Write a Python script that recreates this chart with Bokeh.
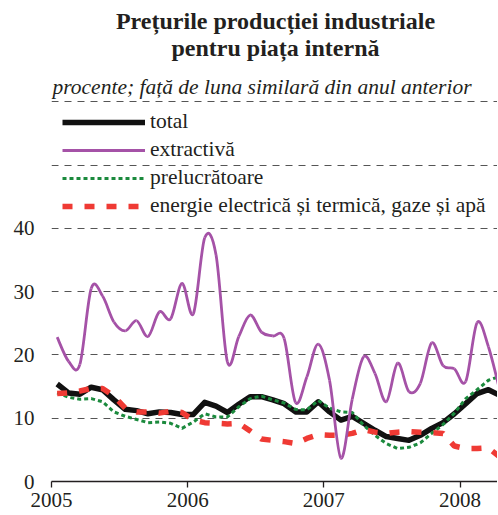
from bokeh.plotting import figure
from bokeh.models import Range1d, FixedTicker, Label, Legend, LegendItem
from bokeh.embed import file_html
from bokeh.resources import INLINE

# ---------------- data (monthly, Jan 2005 - Apr 2008) ----------------
start_year = 2005
years = [2005, 2006, 2007, 2008]
year_labels = ["2005", "2006", "2007", "2008"]
y_ticks = [0, 10, 20, 30, 40]
grid_ticks = [10, 20, 30, 40, 50, 60]

total = [15.4, 14.0, 13.8, 14.9, 14.5, 12.9, 11.4, 11.2, 10.7, 11.0, 10.9, 10.6,
         10.6, 12.5, 11.9, 10.9, 12.2, 13.4, 13.4, 12.9, 12.3, 11.0, 11.0, 12.6,
         11.0, 9.7, 10.3, 9.2, 8.1, 7.1, 6.8, 6.5, 7.3, 8.4, 9.3, 10.7,
         12.3, 13.9, 14.5, 13.6]
extractiva = [22.8, 19.0, 18.5, 30.5, 29.3, 25.2, 23.8, 25.4, 22.9, 26.8, 25.7, 31.3,
              26.5, 38.5, 35.8, 18.9, 22.9, 26.3, 23.6, 23.0, 22.6, 12.5, 16.5, 21.7,
              16.0, 3.7, 13.0, 19.7, 17.1, 12.6, 18.7, 14.2, 15.5, 21.9, 18.3, 17.8,
              15.8, 25.1, 21.3, 14.4]
prelucratoare = [14.0, 13.3, 13.0, 13.1, 12.6, 11.0, 10.3, 9.8, 9.3, 9.4, 9.2, 8.4,
                 9.4, 10.7, 10.2, 10.2, 11.8, 13.1, 13.5, 12.9, 12.4, 11.4, 11.3, 12.8,
                 11.6, 11.0, 10.9, 8.9, 7.3, 6.0, 5.2, 5.4, 6.1, 7.6, 9.0, 10.8,
                 13.1, 14.5, 16.0, 16.6]
energie = [13.9, 14.0, 14.3, 14.7, 14.7, 13.5, 11.6, 11.0, 11.0, 10.8, 11.1, 10.9,
           9.7, 9.3, 9.2, 9.1, 9.2, 8.0, 6.7, 6.5, 6.3, 6.0, 6.8, 7.4,
           7.3, 7.3, 7.6, 8.2, 7.8, 7.6, 7.8, 7.9, 7.8, 7.7, 7.6, 5.6,
           5.2, 5.2, 5.3, 3.9]

months = [start_year + (i + 0.5) / 12 for i in range(len(total))]

FONT = "Liberation Serif"
TXT = "#231f20"

p = figure(width=497, height=514, output_backend="svg", toolbar_location=None,
           x_range=Range1d(2005, 2008.275), y_range=Range1d(0, 76.0),
           min_border_left=51, min_border_right=0, min_border_top=0,
           min_border_bottom=33)
p.outline_line_color = None
p.background_fill_color = "white"
p.border_fill_color = "white"

# grid
p.xgrid.visible = False
p.ygrid.ticker = FixedTicker(ticks=grid_ticks)
p.ygrid.grid_line_color = "#555555"
p.ygrid.grid_line_width = 1
p.ygrid.grid_line_dash = "7 6"

# y axis
p.yaxis.ticker = FixedTicker(ticks=y_ticks)
p.yaxis.axis_line_color = None
p.yaxis.major_tick_line_color = None
p.yaxis.minor_tick_line_color = None
p.yaxis.major_tick_out = 0
p.yaxis.major_tick_in = 0
p.yaxis.major_label_standoff = 17
p.yaxis.major_label_text_font = FONT
p.yaxis.major_label_text_font_size = "21px"
p.yaxis.major_label_text_color = TXT

# x axis
p.xaxis.ticker = FixedTicker(ticks=years)
p.xaxis.major_label_overrides = {y: l for y, l in zip(years, year_labels)}
p.xaxis.axis_line_color = TXT
p.xaxis.axis_line_width = 1.3
p.xaxis.major_tick_line_color = TXT
p.xaxis.major_tick_line_width = 1.3
p.xaxis.major_tick_out = 6
p.xaxis.major_tick_in = 0
p.xaxis.minor_tick_line_color = None
p.xaxis.major_label_standoff = 5
p.xaxis.major_label_text_font = FONT
p.xaxis.major_label_text_font_size = "21px"
p.xaxis.major_label_text_color = TXT

# series
r_total = p.line(months, total, line_color="#111111", line_width=5.5,
                 line_join="round")
r_prel = p.line(months, prelucratoare, line_color="#1b8a3d", line_width=3,
                line_dash="4 3")
r_en = p.line(months, energie, line_color="#ef3a34", line_width=5.5,
              line_dash="10 12")

# smoothed extractiva (Catmull-Rom -> cubic bezier through the data points)
def bezier_parts(xs, ys):
    n = len(xs)
    out = {k: [] for k in ("x0", "y0", "x1", "y1", "cx0", "cy0", "cx1", "cy1")}
    for i in range(n - 1):
        xa, ya = xs[max(i - 1, 0)], ys[max(i - 1, 0)]
        xb, yb = xs[i], ys[i]
        xc, yc = xs[i + 1], ys[i + 1]
        xd, yd = xs[min(i + 2, n - 1)], ys[min(i + 2, n - 1)]
        out["x0"].append(xb); out["y0"].append(yb)
        out["x1"].append(xc); out["y1"].append(yc)
        out["cx0"].append(xb + (xc - xa) / 6); out["cy0"].append(yb + (yc - ya) / 6)
        out["cx1"].append(xc - (xd - xb) / 6); out["cy1"].append(yc - (yd - yb) / 6)
    return out

bz = bezier_parts(months, extractiva)
r_ext = p.bezier(x0=bz["x0"], y0=bz["y0"], x1=bz["x1"], y1=bz["y1"],
                 cx0=bz["cx0"], cy0=bz["cy0"], cx1=bz["cx1"], cy1=bz["cy1"],
                 line_color="#a552a7", line_width=2.8)

legend = Legend(items=[
    LegendItem(label="total", renderers=[r_total]),
    LegendItem(label="extractivă", renderers=[r_ext]),
    LegendItem(label="prelucrătoare", renderers=[r_prel]),
    LegendItem(label="energie electrică și termică, gaze și apă", renderers=[r_en]),
], location=(11, 263), glyph_width=83, glyph_height=24, label_height=24,
    label_standoff=5, spacing=3, padding=0, margin=0,
    border_line_alpha=0, background_fill_alpha=0,
    label_text_font=FONT, label_text_font_size="21.5px", label_text_color=TXT)
p.add_layout(legend)

# titles
p.add_layout(Label(x=224, y=461, x_units="screen", y_units="screen",
                   text="Prețurile producției industriale", text_align="center",
                   text_baseline="middle", text_font=FONT,
                   text_font_size="24px", text_font_style="bold", text_color=TXT))
p.add_layout(Label(x=224, y=434, x_units="screen", y_units="screen",
                   text="pentru piața internă", text_align="center",
                   text_baseline="middle", text_font=FONT,
                   text_font_size="24px", text_font_style="bold", text_color=TXT))
p.add_layout(Label(x=1, y=395, x_units="screen", y_units="screen",
                   text="procente; față de luna similară din anul anterior",
                   text_align="left", text_baseline="middle", text_font=FONT,
                   text_font_size="21.5px", text_font_style="italic", text_color=TXT))

open("out.html", "w").write(file_html(p, INLINE))
